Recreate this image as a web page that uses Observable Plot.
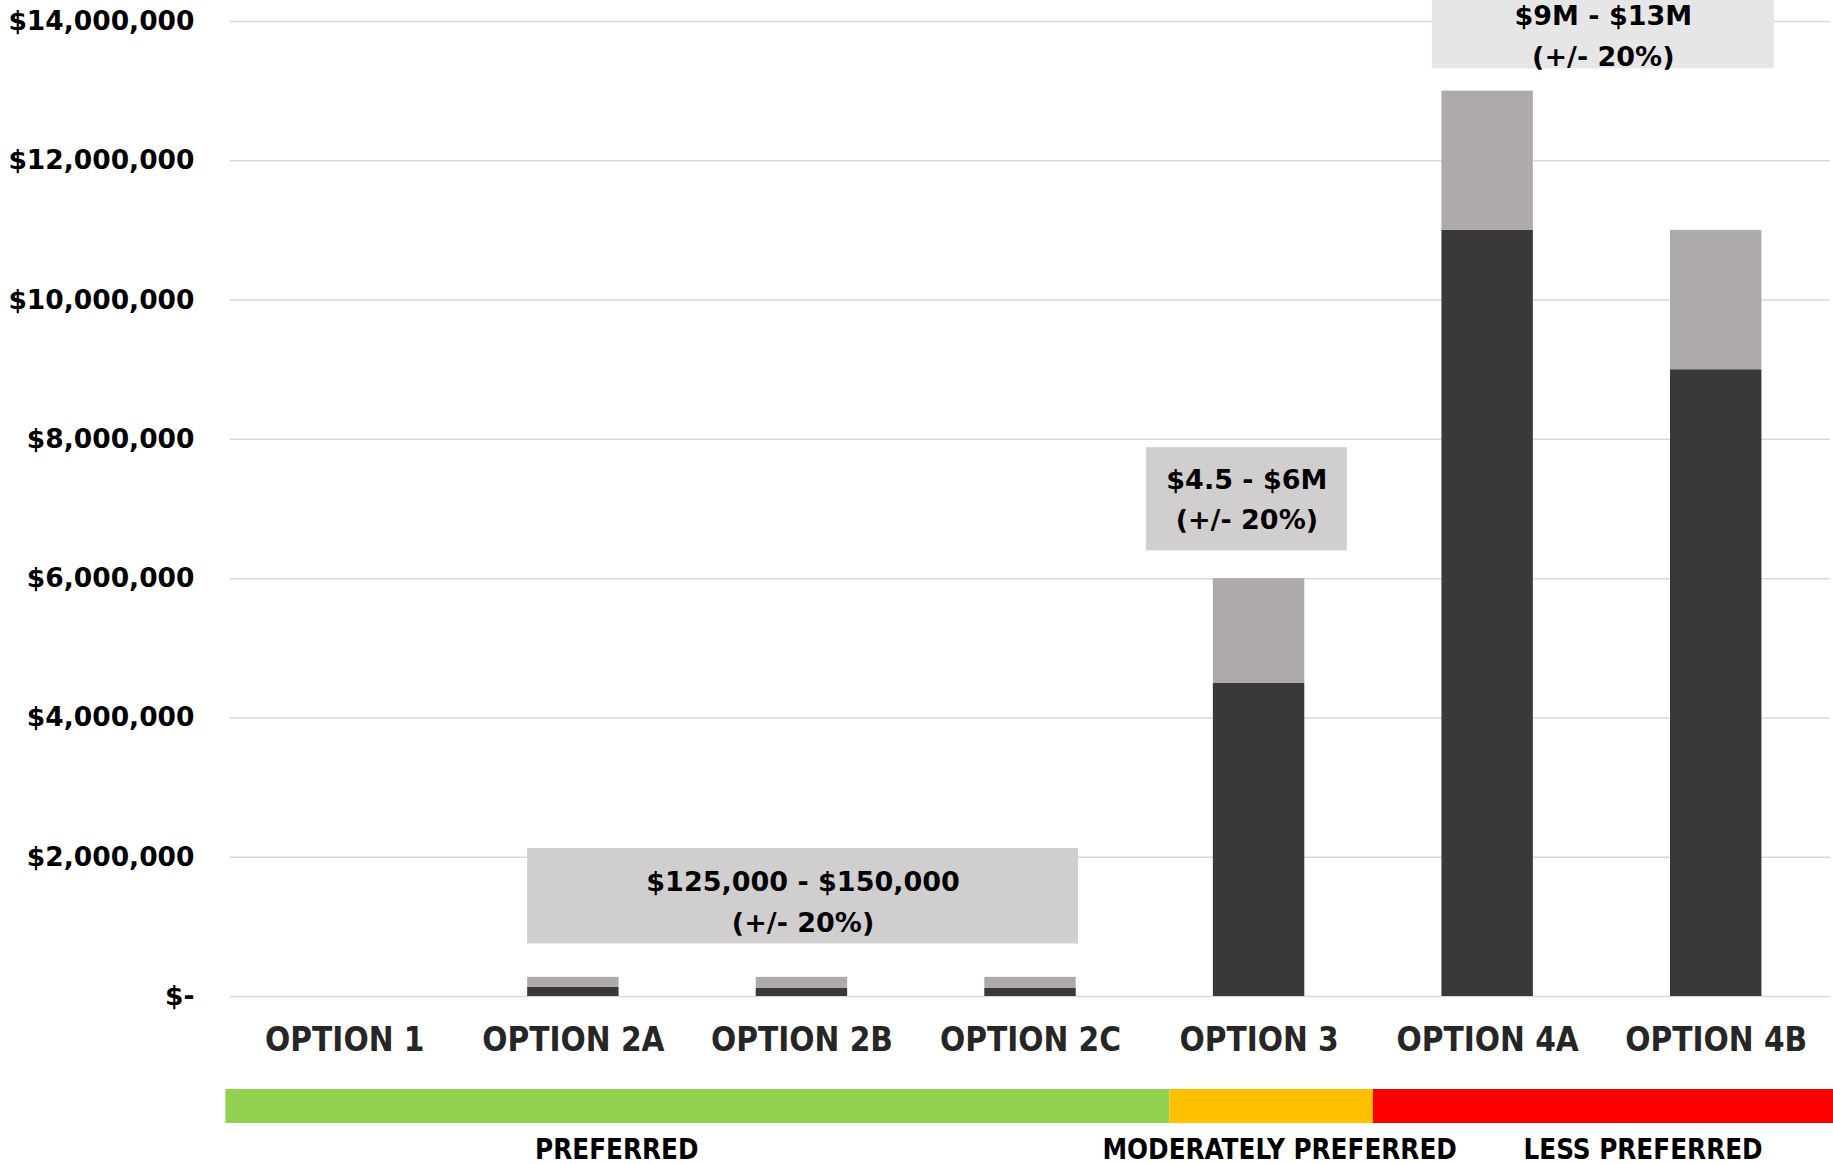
<!DOCTYPE html>
<html><head><meta charset="utf-8">
<script src="https://cdn.jsdelivr.net/npm/d3@7"></script>
<script src="https://cdn.jsdelivr.net/npm/@observablehq/plot@0.6"></script>
<style>html,body{margin:0;padding:0;background:#fff;overflow:hidden} svg{display:block}
.condensed text, text.condensed{font-stretch:condensed}</style>
</head><body><div id="chart"></div>
<script>
// ---- data ----
const categories = ["OPTION 1","OPTION 2A","OPTION 2B","OPTION 2C","OPTION 3","OPTION 4A","OPTION 4B"];
const lowCost   = [0, 130000, 120000, 120000, 4500000, 11000000, 9000000];
const rangeCost = [0, 145000, 155000, 155000, 1500000, 2000000, 2000000];
const yTicks = [0, 2000000, 4000000, 6000000, 8000000, 10000000, 12000000, 14000000];
const rangeLabels = ["$125,000 - $150,000\n(+/- 20%)", "$4.5 - $6M\n(+/- 20%)", "$9M - $13M\n(+/- 20%)"];
const preferenceNames = ["PREFERRED", "MODERATELY PREFERRED", "LESS PREFERRED"];

// ---- styles / layout ----
const darkColor = "#3B3838", lightColor = "#AEAAAA";
const preferenceColors = ["#92D050", "#FFC000", "#FF0000"];
const barHalf = 0.2;
const numFont = "'DejaVu Sans', sans-serif";
const condFont = "'DejaVu Sans', sans-serif";

const bars = [];
categories.forEach((c, i) => {
  bars.push({x1: i + 0.5 - barHalf, x2: i + 0.5 + barHalf, y1: 0, y2: lowCost[i], fill: darkColor});
  bars.push({x1: i + 0.5 - barHalf, x2: i + 0.5 + barHalf, y1: lowCost[i], y2: lowCost[i] + rangeCost[i], fill: lightColor});
});

// annotation boxes (label placement)
const annotations = [
  {text: rangeLabels[0], x1: 1.3, x2: 3.71, y1: 754000, y2: 2125000, ty: 1407000, fill: "#D0CECE"},
  {text: rangeLabels[1], x1: 4.007, x2: 4.886, y1: 6400000, y2: 7880000, ty: 7186000, fill: "#D0CECE"},
  {text: rangeLabels[2], x1: 5.258, x2: 6.754, y1: 13320000, y2: 14550000, ty: 13840000, fill: "#E7E6E6"}
];
annotations.forEach(a => a.x = (a.x1 + a.x2) / 2);

const zones = [
  {name: preferenceNames[0], x1: -0.02, x2: 4.11, lx: 1.69, fill: preferenceColors[0]},
  {name: preferenceNames[1], x1: 4.11, x2: 5.0, lx: 4.59, fill: preferenceColors[1]},
  {name: preferenceNames[2], x1: 5.0, x2: 7.02, lx: 6.18, fill: preferenceColors[2]}
];

const main = Plot.plot({
  width: 1833, height: 1065,
  marginLeft: 230, marginRight: 3, marginTop: 21, marginBottom: 69,
  x: {domain: [0, 7], axis: null},
  y: {domain: [0, 14000000], axis: null},
  style: {background: "#fff"},
  marks: [
    Plot.gridY(yTicks, {stroke: "#D9D9D9", strokeOpacity: 1, strokeWidth: 1.5}),
    Plot.rect(bars, {x1: "x1", x2: "x2", y1: "y1", y2: "y2", fill: "fill", inset: 0}),
    Plot.rect(annotations, {x1: "x1", x2: "x2", y1: "y1", y2: "y2", fill: "fill", inset: 0}),
    Plot.text(annotations, {x: "x", y: "ty", text: "text", lineHeight: 1.5, fontSize: 27, fontWeight: "bold", fontFamily: numFont, fill: "#000"}),
    Plot.axisY({ticks: yTicks, tickFormat: d => d === 0 ? "$-" : "$" + d3.format(",")(d), tickSize: 0, tickPadding: 36,
      fontSize: 26.5, fontWeight: "bold", fontFamily: numFont, fill: "#000", label: null}),
    Plot.axisX({ticks: categories.map((d, i) => i + 0.5), tickFormat: d => categories[Math.round(d - 0.5)], tickSize: 0, tickPadding: 31,
      fontSize: 33, fontWeight: "bold", fontFamily: condFont, fill: "#262626", label: null})
  ]
});
d3.select(main).selectAll("g[aria-label='x-axis tick label'] text").classed("condensed", true);

const strip = Plot.plot({
  width: 1833, height: 99,
  marginLeft: 230, marginRight: 3, marginTop: 24, marginBottom: 41,
  x: {domain: [0, 7], axis: null},
  marks: [
    Plot.rect(zones, {x1: "x1", x2: "x2", fill: "fill", inset: 0}),
    Plot.text(zones, {x: "lx", text: "name", frameAnchor: "bottom", dy: 35, fontSize: 27.5, fontWeight: "bold", fontFamily: condFont, fill: "#000"})
  ]
});
strip.classList.add("condensed");

document.getElementById("chart").append(main, strip);
</script>
</body></html>
